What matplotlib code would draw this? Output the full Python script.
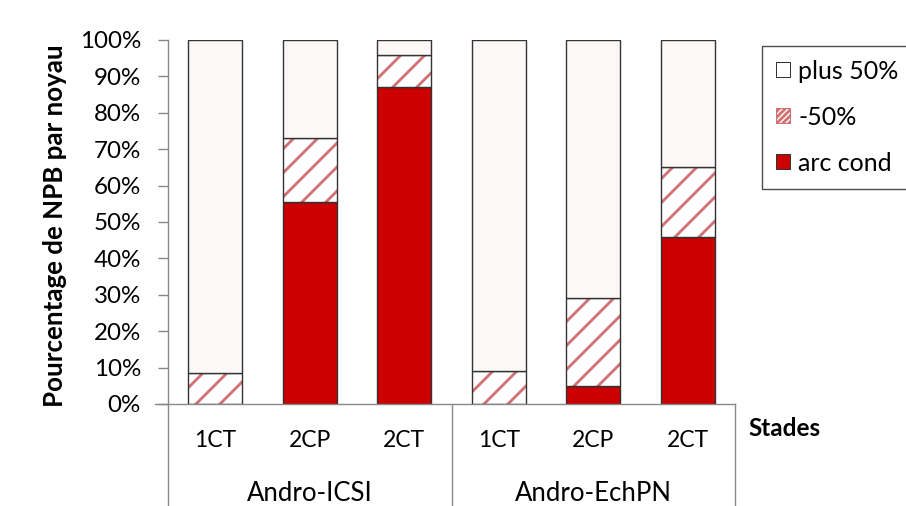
import matplotlib.pyplot as plt
import matplotlib.patches as mpatches
from matplotlib.lines import Line2D
import numpy as np

# render at 72 dpi so the hatch tile is smaller (denser stripes); scale sizes by S
S = 100 / 72

plt.rcParams['font.family'] = ['Lato', 'DejaVu Sans']
plt.rcParams['hatch.linewidth'] = 2.0 * S

# Data (percent of nuclei)
stades = ['1CT', '2CP', '2CT', '1CT', '2CP', '2CT']
groupes = ['Andro-ICSI', 'Andro-EchPN']
arc_cond = [0.0, 55.5, 87.0, 0.0, 5.0, 46.0]
moins_50 = [8.5, 17.5, 8.8, 9.0, 24.0, 19.2]
plus_50 = [91.5, 27.0, 4.2, 91.0, 71.0, 34.8]

red = '#CC0000'
light = '#FCF8F8'
hatch_col = '#D07070'
edge = '#333333'
grey = '#888888'

fig = plt.figure(figsize=(906 / 72, 506 / 72), dpi=72)
ax = fig.add_axes([0.1854, 0.2016, 0.8113 - 0.1854, 0.921 - 0.2016])

x = np.arange(len(stades))
w = 0.57
arc = np.array(arc_cond) / 100
m50 = np.array(moins_50) / 100
p50 = np.array(plus_50) / 100

ax.bar(x, arc, w, color=red, edgecolor=edge, linewidth=1.0 * S)
# hatched segment: hatch drawn in light red, then outline in dark
ax.bar(x, m50, w, bottom=arc, color='white', edgecolor=hatch_col, linewidth=0, hatch='/')
ax.bar(x, m50, w, bottom=arc, fill=False, edgecolor=edge, linewidth=1.0 * S)
ax.bar(x, p50, w, bottom=arc + m50, color=light, edgecolor=edge, linewidth=1.0 * S)

ax.set_xlim(-0.5, len(stades) - 0.5)
ax.set_ylim(0, 1)
ax.set_yticks(np.arange(0, 1.01, 0.1))
ax.set_yticklabels([f'{int(round(v * 100))}%' for v in np.arange(0, 1.01, 0.1)], fontsize=17.4 * S)
ax.tick_params(axis='y', direction='out', length=10, width=S, color=grey, pad=17)
ax.set_xticks([])
for s in ['top', 'right', 'bottom']:
    ax.spines[s].set_visible(False)
ax.spines['left'].set_color(grey)
ax.spines['left'].set_linewidth(S)

ax.set_ylabel('Pourcentage de NPB par noyau', fontsize=18.6 * S, fontweight='bold')
ax.yaxis.set_label_coords(-0.178, 0.49)

# x axis line (extends a bit left of y axis)
ax.add_line(Line2D([-0.64, 5.5], [0, 0], color=grey, lw=S, clip_on=False))

# category labels and group labels
for xi, lab in zip(x, stades):
    ax.text(xi, -0.1, lab, ha='center', va='center', fontsize=16.5 * S)
for gi, g in enumerate(groupes):
    ax.text(gi * 3 + 1, -0.245, g, ha='center', va='center', fontsize=18.5 * S)

# group separators
for sx in [-0.5, 2.5, 5.5]:
    ax.add_line(Line2D([sx, sx], [0, -0.3], color=grey, lw=S, clip_on=False))

fig.text(748 / 906, 1 - 428 / 506, 'Stades', fontsize=17.5 * S, fontweight='bold', ha='left', va='center')

# legend
handles = [
    mpatches.Patch(facecolor='white', edgecolor=edge, label='plus 50%'),
    mpatches.Patch(facecolor='white', edgecolor=hatch_col, hatch='////', label='-50%'),
    mpatches.Patch(facecolor=red, edgecolor=edge, label='arc cond'),
]
leg = fig.legend(handles=handles, loc='upper left', bbox_to_anchor=(762 / 906, 1 - 46 / 506),
                 fontsize=18 * S, frameon=True, fancybox=False, handlelength=0.55, handleheight=0.55,
                 handletextpad=0.35, labelspacing=0.92, borderpad=0.55, borderaxespad=0)
leg.get_frame().set_edgecolor('#222222')
leg.get_frame().set_linewidth(1.0 * S)

fig.savefig('out.png', dpi=72)
